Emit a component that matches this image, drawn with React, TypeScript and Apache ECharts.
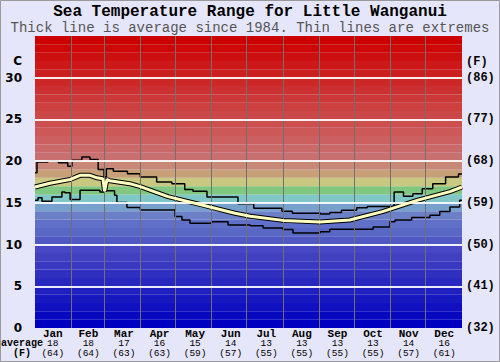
import React, { useEffect, useRef } from "react";
import * as echarts from "echarts";

const months = ["Jan", "Feb", "Mar", "Apr", "May", "Jun", "Jul", "Aug", "Sep", "Oct", "Nov", "Dec"];
const monthAvgC = [18, 18, 17, 16, 15, 14, 13, 13, 13, 13, 14, 16];
const monthAvgF = [64, 64, 63, 63, 59, 57, 55, 55, 55, 55, 57, 61];
const monthBoundaries = [31, 59, 90, 120, 151, 181, 212, 243, 273, 304, 334];
const hLines = [5, 10, 15, 20, 25, 30];
const leftTicks = ["0", "5", "10", "15", "20", "25", "30", ""];
const rightTicks = ["(32)", "(41)", "(50)", "(59)", "(68)", "(77)", "(86)", ""];

// band colours, index i covers i..i+1 degC
const bandColors = [
  "#0000c0", "#0808c0", "#1010c0", "#1818c0", "#2020c0", "#2828c0", "#3030c0", "#3838c0",
  "#4040c0", "#4848c4", "#5058c4", "#5868c4", "#6070c8", "#6c80c8", "#78a0cc", "#80c8c8",
  "#80c880", "#c8c880", "#c8a078", "#c88878", "#c87070", "#c86868", "#cc6060", "#cc5858",
  "#cc5050", "#cc4848", "#cc4040", "#cc3838", "#cc3030", "#cc2828", "#cc2020", "#cc1818",
  "#cc1010", "#cc0808", "#cc0000",
];

// day of year, value degC
const avgSeries: [number, number][] = [
  [0, 16.9], [12.8, 17.35], [30, 17.8], [38.5, 18.3], [47, 18.3], [53, 18.0], [58, 17.9],
  [59.5, 16.4], [61.5, 17.8], [64, 17.65], [81, 17.3], [90, 16.95], [113.7, 15.75],
  [142.7, 14.75], [171, 13.75], [184, 13.4], [212, 12.9], [243.6, 12.7], [269, 12.95],
  [297, 13.95], [326.5, 15.3], [354.7, 16.35], [365, 16.9],
];

const maxSeries: [number, number][] = [
  [0, 18.6], [1.7, 19.9], [11, 20.05], [20, 19.8], [28, 19.4], [31.6, 20.1], [40, 20.5],
  [47, 20.2], [54, 19.0], [59, 18.1], [61, 19.1], [67, 18.8], [79, 18.5], [90, 18.1],
  [104, 17.5], [117, 17.3], [128, 16.6], [135, 16.4], [147, 15.7], [173.5, 14.9],
  [187, 14.35], [211, 14.0], [220, 13.75], [244, 13.65], [252, 13.85], [262, 14.1],
  [275, 14.4], [284, 14.55], [307, 16.3], [315, 15.8], [323, 16.1], [331, 16.7],
  [340, 17.3], [351, 18.1], [362, 18.45], [365, 18.45],
];

const minSeries: [number, number][] = [
  [0, 15.3], [2.6, 15.6], [6, 15.2], [14.5, 15.7], [23, 16.3], [25.6, 16.2], [30, 15.4],
  [38.5, 16.5], [55.5, 16.3], [59, 16.45], [68, 15.9], [70, 15.05], [78.6, 14.45],
  [90, 14.15], [119.7, 13.35], [125.6, 12.95], [132.5, 12.55], [151, 12.75], [165, 12.35],
  [184, 12.25], [195, 12.0], [212, 11.8], [220.5, 11.4], [243.6, 11.55], [252, 11.85],
  [289, 12.1], [303.4, 12.75], [307.7, 12.95], [322, 13.25], [337.6, 13.5], [346, 13.95],
  [354.7, 14.5], [363, 15.3], [365, 15.3],
];

export default function App() {
  const ref = useRef<HTMLDivElement>(null);
  useEffect(() => {
    if (!ref.current) return;
    const chart = echarts.init(ref.current, null, { renderer: "svg" });
    const mono = "'Liberation Mono', 'DejaVu Sans Mono', monospace";
    chart.setOption({
      animation: false,
      backgroundColor: "#e6e6fa",
      title: [
        {
          text: "Sea Temperature Range for Little Wanganui",
          left: "center",
          top: 4,
          padding: 0,
          textStyle: { fontFamily: mono, fontWeight: "bold", fontSize: 16, color: "#000" },
        },
        {
          text: "Thick line is average since 1984. Thin lines are extremes",
          left: "center",
          top: 21,
          padding: 0,
          textStyle: { fontFamily: mono, fontWeight: "normal", fontSize: 14, color: "#555" },
        },
      ],
      graphic: [
        {
          type: "rect",
          shape: { x: 0.5, y: 0.5, width: 499, height: 361 },
          style: { fill: "none", stroke: "#999", lineWidth: 1 },
          silent: true,
        },
        {
          type: "text",
          x: 22,
          y: 61,
          style: {
            text: "C",
            align: "right",
            verticalAlign: "middle",
            font: "bold 12px 'DejaVu Sans'",
            fill: "#000",
          },
        },
        {
          type: "text",
          x: 466,
          y: 62,
          style: {
            text: "(F)",
            align: "left",
            verticalAlign: "middle",
            font: "bold 12px " + mono,
            fill: "#000",
          },
        },
        {
          type: "text",
          x: 22,
          y: 343,
          style: {
            text: "average",
            align: "center",
            verticalAlign: "middle",
            font: "bold 10px " + mono,
            fill: "#000",
          },
        },
        {
          type: "text",
          x: 22,
          y: 353,
          style: {
            text: "(F)",
            align: "center",
            verticalAlign: "middle",
            font: "bold 10px " + mono,
            fill: "#000",
          },
        },
      ],
      grid: { left: 35, right: 38, top: 36, bottom: 34 },
      xAxis: [
        {
          type: "value",
          min: 0,
          max: 365,
          show: false,
        },
        {
          type: "category",
          data: months,
          position: "bottom",
          boundaryGap: true,
          axisLine: { show: false },
          axisTick: { show: false },
          splitLine: { show: false },
          axisLabel: {
            margin: 0,
            interval: 0,
            formatter: (v: string, i: number) =>
              `{m|${v}}\n{n|${monthAvgC[i]}}\n{n|(${monthAvgF[i]})}`,
            rich: {
              m: { fontFamily: mono, fontWeight: "bold", fontSize: 11, lineHeight: 11, color: "#000" },
              n: { fontFamily: mono, fontSize: 9.5, lineHeight: 9.5, color: "#000" },
            },
          },
        },
      ],
      yAxis: [
        {
          type: "value",
          min: 0,
          max: 35,
          interval: 5,
          position: "left",
          axisLine: { show: false },
          axisTick: { show: false },
          splitLine: { show: false },
          axisLabel: {
            margin: 13,
            fontFamily: "'DejaVu Sans'",
            fontWeight: "bold",
            fontSize: 12,
            color: "#000",
            formatter: (v: number) => leftTicks[Math.round(v / 5)] ?? "",
          },
        },
        {
          type: "value",
          min: 0,
          max: 35,
          interval: 5,
          position: "right",
          axisLine: { show: false },
          axisTick: { show: false },
          splitLine: { show: false },
          axisLabel: {
            margin: 4,
            fontFamily: mono,
            fontWeight: "bold",
            fontSize: 12,
            color: "#000",
            formatter: (v: number) => rightTicks[Math.round(v / 5)] ?? "",
          },
        },
      ],
      series: [
        {
          type: "line",
          xAxisIndex: 0,
          yAxisIndex: 0,
          data: [],
          silent: true,
          z: 1,
          markArea: {
            silent: true,
            data: bandColors.map((c, i) => [
              { yAxis: i, itemStyle: { color: c } },
              { yAxis: i + 1 },
            ]),
          },
        },
        {
          type: "line",
          xAxisIndex: 0,
          yAxisIndex: 0,
          data: [],
          silent: true,
          z: 2,
          markLine: {
            silent: true,
            symbol: "none",
            label: { show: false },
            data: [
              ...monthBoundaries.map((d) => ({
                xAxis: d,
                lineStyle: { color: "#707070", width: 1, type: "solid" },
              })),
              ...hLines.map((h) => ({
                yAxis: h,
                lineStyle: { color: "#ffffff", width: 2, type: "solid", opacity: 0.9 },
              })),
            ],
          },
        },
        {
          type: "line",
          xAxisIndex: 0,
          yAxisIndex: 0,
          data: maxSeries,
          step: "end",
          showSymbol: false,
          silent: true,
          z: 3,
          lineStyle: { color: "#000", width: 1.5 },
        },
        {
          type: "line",
          xAxisIndex: 0,
          yAxisIndex: 0,
          data: minSeries,
          step: "end",
          showSymbol: false,
          silent: true,
          z: 3,
          lineStyle: { color: "#000", width: 1.5 },
        },
        {
          type: "line",
          xAxisIndex: 0,
          yAxisIndex: 0,
          data: avgSeries,
          showSymbol: false,
          silent: true,
          z: 4,
          lineStyle: { color: "#000", width: 5 },
        },
        {
          type: "line",
          xAxisIndex: 0,
          yAxisIndex: 0,
          data: avgSeries,
          showSymbol: false,
          silent: true,
          z: 5,
          lineStyle: { color: "#ffffc0", width: 3 },
        },
      ],
    });
    return () => chart.dispose();
  }, []);
  return (
    <div
      ref={ref}
      style={{ position: "absolute", left: 0, top: 0, width: 500, height: 362 }}
    />
  );
}
